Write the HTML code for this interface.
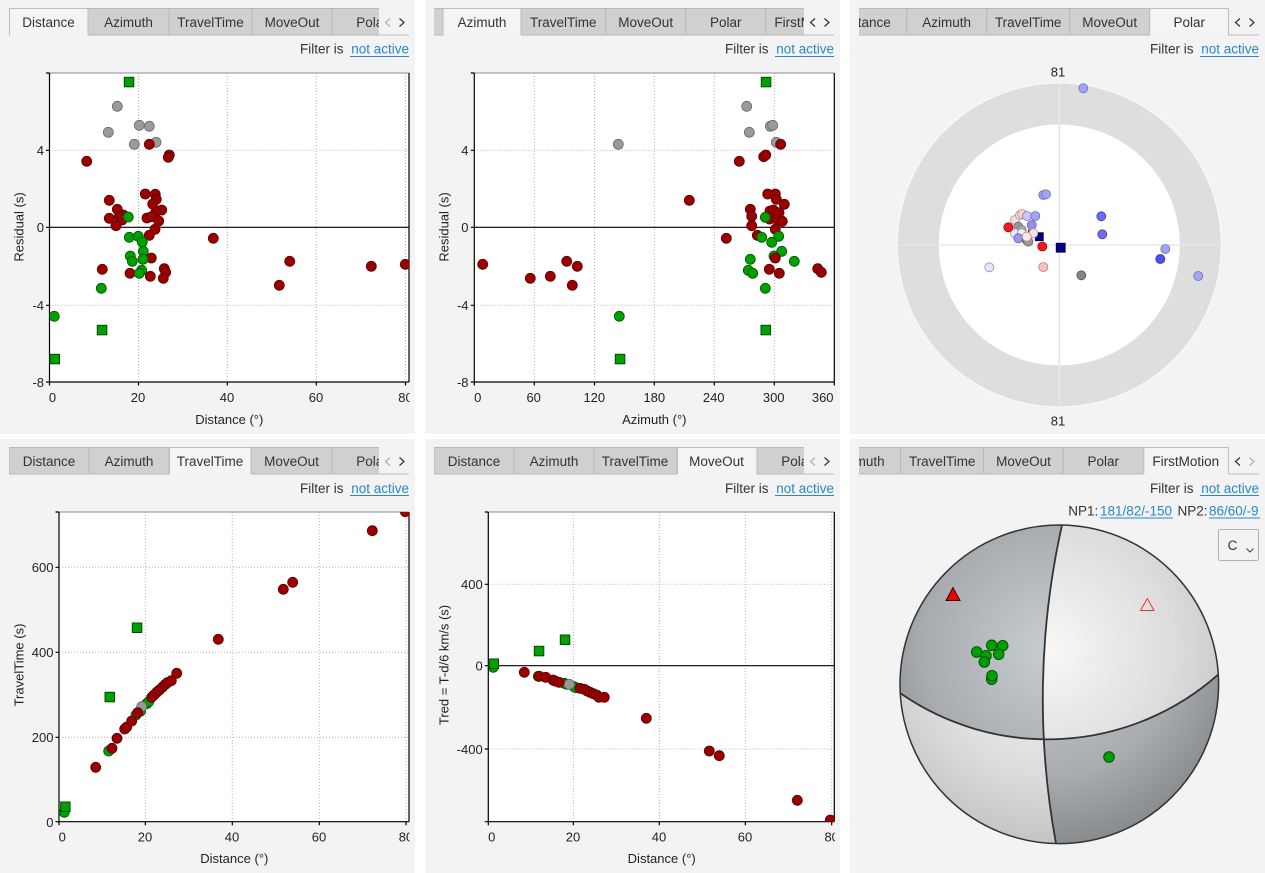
<!DOCTYPE html>
<html><head><meta charset="utf-8"><style>
html,body{margin:0;padding:0;background:#fff;width:1265px;height:873px;overflow:hidden}
svg{display:block;font-family:"Liberation Sans",Arial,sans-serif}
.bg{fill:#f2f3f2}
.ti{fill:#d0d0cf;stroke:#b9b9b9;stroke-width:1}
.ta{fill:#f3f4f3}
.tb{fill:none;stroke:#bdbdbd;stroke-width:1}
.tt{font-size:13.5px;fill:#333;text-anchor:middle}
.lab{font-size:13.5px;fill:#333;text-anchor:end}
.lnk{font-size:13.5px;fill:#2b86cc;text-anchor:end}
.ul{stroke:#2b86cc;stroke-width:1}
.tk{font-size:13px;fill:#222}
.tky{font-size:13px;fill:#222;text-anchor:end}
.tkx{font-size:13px;fill:#222;text-anchor:middle}
.ttl{font-size:13px;fill:#222;text-anchor:middle}
.grid{stroke:#b4b4b4;stroke-width:1;stroke-dasharray:1 2}
.ax{stroke:#000;stroke-width:1.2;fill:none}
.bt{stroke:#8c8c8c;stroke-width:1}
.r{fill:#9b0000;stroke:#5c0000;stroke-width:0.8}
.g{fill:#00a000;stroke:#005800;stroke-width:0.8}
.gy{fill:#9a9a9a;stroke:#6a6a6a;stroke-width:0.8}
.sq{fill:#00a000;stroke:#004a00;stroke-width:1}
.chd{fill:none;stroke:#333;stroke-width:1.2}
.chl{fill:none;stroke:#b0b0b0;stroke-width:1.2}
</style></head><body>
<svg width="1265" height="873" viewBox="0 0 1265 873">
<defs>
<clipPath id="tc1"><rect x="9" y="0" width="370" height="40"/></clipPath>
<clipPath id="tc2"><rect x="434" y="0" width="370" height="40"/></clipPath>
<clipPath id="tc3"><rect x="859" y="0" width="370" height="40"/></clipPath>
<clipPath id="tc4"><rect x="9" y="440" width="370" height="40"/></clipPath>
<clipPath id="tc5"><rect x="434" y="440" width="370" height="40"/></clipPath>
<clipPath id="tc6"><rect x="859" y="440" width="370" height="40"/></clipPath>
<clipPath id="pc1"><rect x="49.5" y="73" width="359.5" height="309"/></clipPath>
<clipPath id="pc2"><rect x="474.3" y="73" width="360" height="309"/></clipPath>
<clipPath id="pc4"><rect x="59" y="512" width="350" height="309.7"/></clipPath>
<clipPath id="pc5"><rect x="488.3" y="512" width="346" height="309.7"/></clipPath>
<clipPath id="lc1"><rect x="0" y="380" width="409.5" height="40"/></clipPath>
<clipPath id="lc4"><rect x="0" y="820" width="409.5" height="40"/></clipPath>
<clipPath id="lc5"><rect x="425" y="820" width="409.8" height="40"/></clipPath>
<radialGradient id="lg" cx="1050" cy="650" r="230" gradientUnits="userSpaceOnUse">
<stop offset="0" stop-color="#f7f7f7"/><stop offset="0.55" stop-color="#dcdcdc"/><stop offset="0.85" stop-color="#c4c4c4"/><stop offset="1" stop-color="#b8b8b8"/></radialGradient>
<radialGradient id="dg" cx="1050" cy="650" r="230" gradientUnits="userSpaceOnUse">
<stop offset="0" stop-color="#c8cdd1"/><stop offset="0.55" stop-color="#a8acb0"/><stop offset="0.85" stop-color="#878b8e"/><stop offset="1" stop-color="#7a7e81"/></radialGradient>
</defs>

<!-- panel backgrounds -->
<rect class="bg" x="0" y="0" width="415" height="434"/>
<rect class="bg" x="425" y="0" width="415" height="434"/>
<rect class="bg" x="850" y="0" width="415" height="434"/>
<rect class="bg" x="0" y="439" width="415" height="434"/>
<rect class="bg" x="425" y="439" width="415" height="434"/>
<rect class="bg" x="850" y="439" width="415" height="434"/>

<!-- ===== TAB STRIPS TOP ===== -->
<line class="tb" x1="9" y1="35" x2="409" y2="35"/>
<g clip-path="url(#tc1)">
<rect class="ti" x="88" y="8.5" width="81" height="26.5"/>
<rect class="ti" x="169" y="8.5" width="83" height="26.5"/>
<rect class="ti" x="252" y="8.5" width="80" height="26.5"/>
<rect class="ti" x="332" y="8.5" width="80" height="26.5"/>
<rect class="ta" x="9" y="8" width="79" height="28"/>
<path class="tb" d="M9.5 35.5 V8.5 H88 V35"/>
<text class="tt" x="48.5" y="27">Distance</text>
<text class="tt" x="128.5" y="27">Azimuth</text>
<text class="tt" x="210.5" y="27">TravelTime</text>
<text class="tt" x="292" y="27">MoveOut</text>
<text class="tt" x="372" y="27">Polar</text>
</g>
<polyline class="chl" points="390,18.5 385.5,22.5 390,26.5"/>
<polyline class="chd" points="399.5,18.5 404,22.5 399.5,26.5"/>

<line class="tb" x1="434" y1="35" x2="834" y2="35"/>
<g clip-path="url(#tc2)">
<rect class="ti" x="364" y="8.5" width="79" height="26.5"/>
<rect class="ti" x="521" y="8.5" width="84.7" height="26.5"/>
<rect class="ti" x="605.7" y="8.5" width="80" height="26.5"/>
<rect class="ti" x="685.7" y="8.5" width="80" height="26.5"/>
<rect class="ti" x="765.7" y="8.5" width="84" height="26.5"/>
<rect class="ta" x="443" y="8" width="78" height="28"/>
<path class="tb" d="M443 35.5 V8.5 H521 V35"/>
<text class="tt" x="482" y="27">Azimuth</text>
<text class="tt" x="563.3" y="27">TravelTime</text>
<text class="tt" x="645.7" y="27">MoveOut</text>
<text class="tt" x="725.7" y="27">Polar</text>
<text class="tt" x="807.8" y="27">FirstMotion</text>
</g>
<polyline class="chd" points="815,18.5 810.5,22.5 815,26.5"/>
<polyline class="chd" points="824.5,18.5 829,22.5 824.5,26.5"/>

<line class="tb" x1="859" y1="35" x2="1259" y2="35"/>
<g clip-path="url(#tc3)">
<rect class="ti" x="827" y="8.5" width="79.7" height="26.5"/>
<rect class="ti" x="906.7" y="8.5" width="80" height="26.5"/>
<rect class="ti" x="986.7" y="8.5" width="83" height="26.5"/>
<rect class="ti" x="1069.7" y="8.5" width="80" height="26.5"/>
<rect class="ta" x="1149.7" y="8" width="79" height="28"/>
<path class="tb" d="M1149.7 35 V8.5 H1228.5 V35.5"/>
<text class="tt" x="864.5" y="27">Distance</text>
<text class="tt" x="946.7" y="27">Azimuth</text>
<text class="tt" x="1028.2" y="27">TravelTime</text>
<text class="tt" x="1109.7" y="27">MoveOut</text>
<text class="tt" x="1189.2" y="27">Polar</text>
</g>
<polyline class="chd" points="1240,18.5 1235.5,22.5 1240,26.5"/>
<polyline class="chd" points="1249.5,18.5 1254,22.5 1249.5,26.5"/>

<!-- ===== TAB STRIPS BOTTOM ===== -->
<line class="tb" x1="9" y1="474" x2="409" y2="474"/>
<g clip-path="url(#tc4)">
<rect class="ti" x="9" y="447.5" width="80" height="26.5"/>
<rect class="ti" x="89" y="447.5" width="80" height="26.5"/>
<rect class="ti" x="251" y="447.5" width="81" height="26.5"/>
<rect class="ti" x="332" y="447.5" width="80" height="26.5"/>
<rect class="ta" x="169" y="447" width="82" height="28"/>
<path class="tb" d="M169.5 474 V447.5 H251 V474"/>
<text class="tt" x="49" y="466">Distance</text>
<text class="tt" x="129" y="466">Azimuth</text>
<text class="tt" x="210" y="466">TravelTime</text>
<text class="tt" x="291.5" y="466">MoveOut</text>
<text class="tt" x="372" y="466">Polar</text>
</g>
<polyline class="chl" points="390,457.5 385.5,461.5 390,465.5"/>
<polyline class="chd" points="399.5,457.5 404,461.5 399.5,465.5"/>

<line class="tb" x1="434" y1="474" x2="834" y2="474"/>
<g clip-path="url(#tc5)">
<rect class="ti" x="434" y="447.5" width="80" height="26.5"/>
<rect class="ti" x="514" y="447.5" width="80" height="26.5"/>
<rect class="ti" x="594" y="447.5" width="83" height="26.5"/>
<rect class="ti" x="757" y="447.5" width="80" height="26.5"/>
<rect class="ta" x="677" y="447" width="80" height="28"/>
<path class="tb" d="M677.5 474 V447.5 H757 V474"/>
<text class="tt" x="474" y="466">Distance</text>
<text class="tt" x="554" y="466">Azimuth</text>
<text class="tt" x="635" y="466">TravelTime</text>
<text class="tt" x="716.5" y="466">MoveOut</text>
<text class="tt" x="797" y="466">Polar</text>
</g>
<polyline class="chl" points="815,457.5 810.5,461.5 815,465.5"/>
<polyline class="chd" points="824.5,457.5 829,461.5 824.5,465.5"/>

<line class="tb" x1="859" y1="474" x2="1259" y2="474"/>
<g clip-path="url(#tc6)">
<rect class="ti" x="820" y="447.5" width="80.7" height="26.5"/>
<rect class="ti" x="900.7" y="447.5" width="83" height="26.5"/>
<rect class="ti" x="983.7" y="447.5" width="79.6" height="26.5"/>
<rect class="ti" x="1063.3" y="447.5" width="80" height="26.5"/>
<rect class="ta" x="1143.3" y="447" width="85" height="28"/>
<path class="tb" d="M1143.8 474 V447.5 H1228.3 V474"/>
<text class="tt" x="860.3" y="466">Azimuth</text>
<text class="tt" x="942.2" y="466">TravelTime</text>
<text class="tt" x="1023.5" y="466">MoveOut</text>
<text class="tt" x="1103.3" y="466">Polar</text>
<text class="tt" x="1185.8" y="466">FirstMotion</text>
</g>
<polyline class="chd" points="1240,457.5 1235.5,461.5 1240,465.5"/>
<polyline class="chl" points="1249.5,457.5 1254,461.5 1249.5,465.5"/>

<!-- ===== FILTER LINES ===== -->
<text class="lab" x="343.5" y="53.5">Filter is</text><text class="lnk" x="409" y="53.5">not active</text><line class="ul" x1="350" y1="56.5" x2="409" y2="56.5"/>
<text class="lab" x="768.5" y="53.5">Filter is</text><text class="lnk" x="834" y="53.5">not active</text><line class="ul" x1="775" y1="56.5" x2="834" y2="56.5"/>
<text class="lab" x="1193.5" y="53.5">Filter is</text><text class="lnk" x="1259" y="53.5">not active</text><line class="ul" x1="1200" y1="56.5" x2="1259" y2="56.5"/>
<text class="lab" x="343.5" y="493">Filter is</text><text class="lnk" x="409" y="493">not active</text><line class="ul" x1="350" y1="495.5" x2="409" y2="495.5"/>
<text class="lab" x="768.5" y="493">Filter is</text><text class="lnk" x="834" y="493">not active</text><line class="ul" x1="775" y1="495.5" x2="834" y2="495.5"/>
<text class="lab" x="1193.5" y="493">Filter is</text><text class="lnk" x="1259" y="493">not active</text><line class="ul" x1="1200" y1="495.5" x2="1259" y2="495.5"/>

<!-- ===== PANEL 1 ===== -->
<rect x="49.5" y="73" width="359.5" height="309" fill="#fff"/>
<g class="grid">
<line x1="138.5" y1="73" x2="138.5" y2="382"/><line x1="227.3" y1="73" x2="227.3" y2="382"/><line x1="316.3" y1="73" x2="316.3" y2="382"/><line x1="405.5" y1="73" x2="405.5" y2="382"/>
<line x1="49.5" y1="150.3" x2="409" y2="150.3"/><line x1="49.5" y1="305.3" x2="409" y2="305.3"/>
</g>
<line class="bt" x1="49.5" y1="73" x2="409" y2="73"/>
<line class="ax" x1="49.5" y1="227.3" x2="409" y2="227.3"/>
<line class="ax" x1="409" y1="73" x2="409" y2="382"/>
<path class="ax" d="M49.5 73 V382 H409"/>
<path class="ax" d="M46 73H49.5M46 150.3H49.5M46 227.3H49.5M46 305.3H49.5M46 382H49.5M49.5 382V385.5M138.5 382V385.5M227.3 382V385.5M316.3 382V385.5M405.5 382V385.5"/>
<text class="tky" x="44" y="155">4</text><text class="tky" x="44" y="232">0</text><text class="tky" x="44" y="310">-4</text><text class="tky" x="44" y="387">-8</text>
<g clip-path="url(#lc1)">
<text class="tkx" x="52.5" y="402">0</text><text class="tkx" x="138" y="402">20</text><text class="tkx" x="227" y="402">40</text><text class="tkx" x="316" y="402">60</text><text class="tkx" x="405.5" y="402">80</text>
</g>
<text class="ttl" x="229.3" y="424">Distance (°)</text>
<text class="ttl" transform="translate(23.5,227) rotate(-90)">Residual (s)</text>
<g clip-path="url(#pc1)">
<g class="gy">
<circle cx="117.3" cy="106.3" r="5"/><circle cx="108.3" cy="132.3" r="5"/><circle cx="139.3" cy="125.3" r="5"/><circle cx="149.3" cy="126.3" r="5"/><circle cx="134.3" cy="144.3" r="5"/><circle cx="156" cy="142.3" r="5"/>
</g>
<g class="r">
<circle cx="149.3" cy="144.3" r="5"/><circle cx="86.7" cy="161.3" r="5"/><circle cx="169.3" cy="155" r="5"/><circle cx="168.3" cy="157.3" r="5"/><circle cx="145.3" cy="194" r="5"/><circle cx="155.3" cy="194.3" r="5"/><circle cx="156.3" cy="199.3" r="5"/><circle cx="152.7" cy="204" r="5"/><circle cx="109.3" cy="200.3" r="5"/><circle cx="117.3" cy="209.3" r="5"/><circle cx="161.7" cy="210" r="5"/><circle cx="156" cy="212" r="5"/><circle cx="123.3" cy="215" r="5"/><circle cx="119.3" cy="216.7" r="5"/><circle cx="109.3" cy="218.3" r="5"/><circle cx="122" cy="220" r="5"/><circle cx="147" cy="218" r="5"/><circle cx="151.7" cy="216.7" r="5"/><circle cx="158.7" cy="221" r="5"/><circle cx="116" cy="225.7" r="5"/><circle cx="155" cy="229.3" r="5"/><circle cx="149.3" cy="235.3" r="5"/><circle cx="213.3" cy="238.3" r="5"/><circle cx="151.3" cy="258" r="5"/><circle cx="102.3" cy="269.3" r="5"/><circle cx="130" cy="273.3" r="5"/><circle cx="164.3" cy="268.7" r="5"/><circle cx="165.7" cy="272.3" r="5"/><circle cx="150.3" cy="276.3" r="5"/><circle cx="163.3" cy="278.3" r="5"/><circle cx="289.7" cy="261.3" r="5"/><circle cx="279.3" cy="285.3" r="5"/><circle cx="371.3" cy="266.3" r="5"/><circle cx="405.3" cy="264.3" r="5"/>
</g>
<g class="g">
<circle cx="128.3" cy="217" r="5"/><circle cx="129.3" cy="237.3" r="5"/><circle cx="138.3" cy="236.3" r="5"/><circle cx="142.3" cy="242" r="5"/><circle cx="143.3" cy="251.3" r="5"/><circle cx="130.3" cy="256" r="5"/><circle cx="132.3" cy="261.3" r="5"/><circle cx="143" cy="259.3" r="5"/><circle cx="141.7" cy="270.3" r="5"/><circle cx="139.3" cy="273.3" r="5"/><circle cx="101.3" cy="288.3" r="5"/><circle cx="54.3" cy="316.3" r="5"/>
</g>
<g class="sq">
<rect x="124.3" y="77.3" width="9.5" height="9.5"/><rect x="97.3" y="325.3" width="9.5" height="9.5"/><rect x="50" y="354.3" width="9.5" height="9.5"/>
</g>
</g>

<!-- ===== PANEL 2 ===== -->
<rect x="474.3" y="73" width="360" height="309" fill="#fff"/>
<g class="grid">
<line x1="534.3" y1="73" x2="534.3" y2="382"/><line x1="594.5" y1="73" x2="594.5" y2="382"/><line x1="654.3" y1="73" x2="654.3" y2="382"/><line x1="714.3" y1="73" x2="714.3" y2="382"/><line x1="774.3" y1="73" x2="774.3" y2="382"/>
<line x1="474.3" y1="150.3" x2="834.3" y2="150.3"/><line x1="474.3" y1="305.3" x2="834.3" y2="305.3"/>
</g>
<line class="bt" x1="474.3" y1="73" x2="834.3" y2="73"/>
<line class="ax" x1="474.3" y1="227.3" x2="834.3" y2="227.3"/>
<line class="ax" x1="834.3" y1="73" x2="834.3" y2="382"/>
<path class="ax" d="M474.3 73 V382 H834.3"/>
<path class="ax" d="M470.8 73H474.3M470.8 150.3H474.3M470.8 227.3H474.3M470.8 305.3H474.3M470.8 382H474.3M474.3 382V385.5M534.3 382V385.5M594.5 382V385.5M654.3 382V385.5M714.3 382V385.5M774.3 382V385.5M834.3 382V385.5"/>
<text class="tky" x="468.5" y="155">4</text><text class="tky" x="468.5" y="232">0</text><text class="tky" x="468.5" y="310">-4</text><text class="tky" x="468.5" y="387">-8</text>
<text class="tkx" x="477.7" y="402">0</text><text class="tkx" x="533.7" y="402">60</text><text class="tkx" x="594.3" y="402">120</text><text class="tkx" x="654.3" y="402">180</text><text class="tkx" x="713.7" y="402">240</text><text class="tkx" x="773.7" y="402">300</text><text class="tkx" x="822.7" y="402">360</text>
<text class="ttl" x="654.3" y="424">Azimuth (°)</text>
<text class="ttl" transform="translate(448.5,227) rotate(-90)">Residual (s)</text>
<g clip-path="url(#pc2)">
<g class="gy">
<circle cx="746.7" cy="106.3" r="5"/><circle cx="749.3" cy="132.3" r="5"/><circle cx="770.3" cy="126.3" r="5"/><circle cx="772.7" cy="125.3" r="5"/><circle cx="618.3" cy="144.3" r="5"/><circle cx="776.3" cy="142.3" r="5"/>
</g>
<g class="r">
<circle cx="780.7" cy="144.3" r="5"/><circle cx="739.3" cy="161.3" r="5"/><circle cx="763.7" cy="156.7" r="5"/><circle cx="765.7" cy="155" r="5"/><circle cx="689.3" cy="200.3" r="5"/><circle cx="767.7" cy="194" r="5"/><circle cx="775.3" cy="194" r="5"/><circle cx="776.3" cy="199.3" r="5"/><circle cx="784.3" cy="204.3" r="5"/><circle cx="750.3" cy="209.3" r="5"/><circle cx="751.7" cy="216.3" r="5"/><circle cx="770" cy="211" r="5"/><circle cx="773.3" cy="210" r="5"/><circle cx="779" cy="212.7" r="5"/><circle cx="769.7" cy="219" r="5"/><circle cx="776.7" cy="219" r="5"/><circle cx="782.3" cy="221.3" r="5"/><circle cx="751.7" cy="225.7" r="5"/><circle cx="775.3" cy="229.3" r="5"/><circle cx="726.3" cy="238.3" r="5"/><circle cx="757.3" cy="235.3" r="5"/><circle cx="482.7" cy="264.3" r="5"/><circle cx="530.3" cy="278.3" r="5"/><circle cx="550.3" cy="276.3" r="5"/><circle cx="566.7" cy="261.3" r="5"/><circle cx="577.3" cy="266.3" r="5"/><circle cx="572.3" cy="285.3" r="5"/><circle cx="817.7" cy="268.7" r="5"/><circle cx="821.3" cy="272.3" r="5"/>
</g>
<g class="g">
<circle cx="765.3" cy="217.3" r="5"/><circle cx="761.7" cy="237.3" r="5"/><circle cx="778.7" cy="236.3" r="5"/><circle cx="771.7" cy="242.3" r="5"/><circle cx="781.7" cy="251.3" r="5"/><circle cx="774" cy="256" r="5"/><circle cx="750.3" cy="259.3" r="5"/><circle cx="794.3" cy="261.3" r="5"/><circle cx="748.3" cy="270.3" r="5"/><circle cx="752.7" cy="273.3" r="5"/><circle cx="765.3" cy="288.3" r="5"/><circle cx="619.3" cy="316.3" r="5"/>
</g>
<g class="r">
<circle cx="775.3" cy="258" r="5"/><circle cx="769.3" cy="269.3" r="5"/><circle cx="779.3" cy="273.3" r="5"/>
</g>
<g class="sq">
<rect x="761.3" y="77.3" width="9.5" height="9.5"/><rect x="761" y="325.3" width="9.5" height="9.5"/><rect x="615.3" y="354.3" width="9.5" height="9.5"/>
</g>
</g>

<!-- ===== PANEL 3: Polar ===== -->
<circle cx="1059.3" cy="245" r="162" fill="#dedede" stroke="#fbfbfb" stroke-width="1"/>
<circle cx="1059.3" cy="245" r="120.5" fill="#fff"/>
<line x1="1059.3" y1="83" x2="1059.3" y2="407" stroke="#ececec"/>
<line x1="897.3" y1="245" x2="1221.3" y2="245" stroke="#ececec"/>
<line x1="1059.3" y1="124.5" x2="1059.3" y2="365.5" stroke="#dcdcdc"/>
<line x1="938.8" y1="245" x2="1179.8" y2="245" stroke="#dcdcdc"/>
<text class="tkx" x="1058" y="76.5">81</text>
<text class="tkx" x="1058" y="425.5">81</text>
<g stroke-width="0.8">
<rect x="1035.3" y="232.7" width="8" height="8" fill="#000080" stroke="#000050"/>
<rect x="1028" y="229.7" width="4" height="4" fill="#800000"/>
<circle cx="1015" cy="220" r="4.5" fill="#f8d8d8" stroke="#b09090"/>
<circle cx="1020" cy="215" r="4.5" fill="#fbe4e4" stroke="#b09090"/>
<circle cx="1022" cy="214" r="4.5" fill="#f6d0d0" stroke="#b09090"/>
<circle cx="1027" cy="216" r="4.5" fill="#c8c8f4" stroke="#8080b0"/>
<circle cx="1018.3" cy="226.7" r="4.5" fill="#999" stroke="#666"/>
<circle cx="1021.7" cy="230" r="4.5" fill="#aaa" stroke="#777"/>
<circle cx="1031.7" cy="225" r="4.5" fill="#9090f0" stroke="#6060b0"/>
<circle cx="1035.3" cy="216" r="4.5" fill="#a4a4f4" stroke="#7070c0"/>
<circle cx="1015" cy="233.3" r="4.5" fill="#e8e8fa" stroke="#9090b0"/>
<circle cx="1021.7" cy="233.3" r="4.5" fill="#f0f0fc" stroke="#9090b0"/>
<circle cx="1018.3" cy="238.3" r="4.5" fill="#9898ec" stroke="#6060b0"/>
<circle cx="1033.3" cy="233.3" r="4.5" fill="#fbe0e0" stroke="#b09090"/>
<circle cx="1026.7" cy="240" r="4.5" fill="#888" stroke="#555"/>
<circle cx="1028.3" cy="241.7" r="4.5" fill="#999" stroke="#666"/>
<circle cx="1026.7" cy="236.7" r="4.5" fill="#fce8e8" stroke="#b09090"/>
<circle cx="1008.3" cy="227.3" r="4.5" fill="#ee1c1c" stroke="#aa0000"/>
<circle cx="1042.3" cy="246.5" r="4.5" fill="#ee1c1c" stroke="#aa0000"/>
<circle cx="1083.3" cy="88.3" r="4.5" fill="#a4a4f4" stroke="#7070c0"/>
<circle cx="1043.3" cy="195" r="4.5" fill="#a4a4f4" stroke="#7070c0"/>
<circle cx="1046" cy="194.3" r="4.5" fill="#a4a4f4" stroke="#7070c0"/>
<circle cx="1165.3" cy="249" r="4.5" fill="#a4a4f4" stroke="#7070c0"/>
<circle cx="1198.3" cy="276" r="4.5" fill="#a4a4f4" stroke="#7070c0"/>
<circle cx="1101.3" cy="216.3" r="4.5" fill="#6c6cf0" stroke="#4040a8"/>
<circle cx="1102.3" cy="234.3" r="4.5" fill="#6c6cf0" stroke="#4040a8"/>
<circle cx="1160.3" cy="259" r="4.5" fill="#5050ec" stroke="#3030a0"/>
<circle cx="1081.3" cy="275.3" r="4.5" fill="#858585" stroke="#555"/>
<circle cx="1043.3" cy="267" r="4.5" fill="#f6c0c0" stroke="#b08080"/>
<circle cx="989.3" cy="267.3" r="4.5" fill="#e6e6fa" stroke="#9090b0"/>
<rect x="1056.2" y="243.2" width="9" height="9" fill="#000080" stroke="#000050"/>
</g>

<!-- ===== PANEL 4 ===== -->
<rect x="59" y="512" width="350" height="309.7" fill="#fff"/>
<g class="grid">
<line x1="145.3" y1="512" x2="145.3" y2="821.7"/><line x1="232.3" y1="512" x2="232.3" y2="821.7"/><line x1="319.3" y1="512" x2="319.3" y2="821.7"/><line x1="406" y1="512" x2="406" y2="821.7"/>
<line x1="59" y1="567.3" x2="409" y2="567.3"/><line x1="59" y1="652.3" x2="409" y2="652.3"/><line x1="59" y1="737.3" x2="409" y2="737.3"/>
</g>
<line class="bt" x1="59" y1="512" x2="409" y2="512"/>
<line class="ax" x1="409" y1="512" x2="409" y2="821.7"/>
<path class="ax" d="M59 512 V821.7 H409"/>
<path class="ax" d="M55.5 512H59M55.5 567.3H59M55.5 652.3H59M55.5 737.3H59M55.5 821.7H59M59 821.7V825.2M145.3 821.7V825.2M232.3 821.7V825.2M319.3 821.7V825.2M406 821.7V825.2"/>
<text class="tky" x="53.5" y="572">600</text><text class="tky" x="53.5" y="657">400</text><text class="tky" x="53.5" y="742">200</text><text class="tky" x="53.5" y="827">0</text>
<g clip-path="url(#lc4)">
<text class="tkx" x="62.3" y="841.5">0</text><text class="tkx" x="145" y="841.5">20</text><text class="tkx" x="232" y="841.5">40</text><text class="tkx" x="319" y="841.5">60</text><text class="tkx" x="406" y="841.5">80</text>
</g>
<text class="ttl" x="234.3" y="863">Distance (°)</text>
<text class="ttl" transform="translate(23.5,665) rotate(-90)">TravelTime (s)</text>
<g clip-path="url(#pc4)">
<g class="g">
<circle cx="64.3" cy="812.3" r="5"/><circle cx="108.7" cy="751" r="5"/><circle cx="136" cy="715" r="5"/><circle cx="140.7" cy="711" r="5"/><circle cx="146.7" cy="703.7" r="5"/><circle cx="148.7" cy="701.7" r="5"/>
</g>
<circle class="gy" cx="141.7" cy="706.7" r="5"/>
<g class="r">
<circle cx="95.7" cy="767.3" r="5"/><circle cx="112" cy="748.3" r="5"/><circle cx="117" cy="738.3" r="5"/><circle cx="124.7" cy="729" r="5"/><circle cx="126.7" cy="727" r="5"/><circle cx="131.7" cy="721" r="5"/><circle cx="137.7" cy="712.7" r="5"/>
<circle cx="151.7" cy="697.3" r="5"/><circle cx="154" cy="695" r="5"/><circle cx="156.7" cy="692.3" r="5"/><circle cx="159.3" cy="690" r="5"/><circle cx="162.3" cy="687.3" r="5"/><circle cx="165" cy="684.7" r="5"/><circle cx="167.3" cy="682.7" r="5"/><circle cx="171.3" cy="680.7" r="5"/><circle cx="176.7" cy="673.3" r="5"/>
<circle cx="218.3" cy="639.3" r="5"/><circle cx="283.3" cy="589.3" r="5"/><circle cx="292.7" cy="582.3" r="5"/><circle cx="372.3" cy="530.7" r="5"/><circle cx="405.3" cy="511.7" r="5"/>
</g>
<g class="sq">
<rect x="132.3" y="623" width="9.5" height="9.5"/><rect x="105" y="692.3" width="9.5" height="9.5"/><rect x="60.6" y="802" width="9.5" height="9.5"/>
</g>
</g>

<!-- ===== PANEL 5 ===== -->
<rect x="488.3" y="512" width="346" height="309.7" fill="#fff"/>
<g class="grid">
<line x1="573.3" y1="512" x2="573.3" y2="821.7"/><line x1="659.3" y1="512" x2="659.3" y2="821.7"/><line x1="745.3" y1="512" x2="745.3" y2="821.7"/><line x1="831.7" y1="512" x2="831.7" y2="821.7"/>
<line x1="488.3" y1="584.3" x2="834.3" y2="584.3"/><line x1="488.3" y1="749" x2="834.3" y2="749"/>
</g>
<line class="bt" x1="488.3" y1="512" x2="834.3" y2="512"/>
<line class="ax" x1="488.3" y1="665.7" x2="834.3" y2="665.7"/>
<line class="ax" x1="834.3" y1="512" x2="834.3" y2="821.7"/>
<path class="ax" d="M488.3 512 V821.7 H834.3"/>
<path class="ax" d="M484.8 512H488.3M484.8 584.3H488.3M484.8 665.7H488.3M484.8 749H488.3M484.8 821.7H488.3M488.3 821.7V825.2M573.3 821.7V825.2M659.3 821.7V825.2M745.3 821.7V825.2M831.7 821.7V825.2"/>
<text class="tky" x="482.7" y="589">400</text><text class="tky" x="482.7" y="670.5">0</text><text class="tky" x="482.7" y="754">-400</text>
<g clip-path="url(#lc5)">
<text class="tkx" x="491.7" y="841.5">0</text><text class="tkx" x="573" y="841.5">20</text><text class="tkx" x="659" y="841.5">40</text><text class="tkx" x="745" y="841.5">60</text><text class="tkx" x="831.7" y="841.5">80</text>
</g>
<text class="ttl" x="661.7" y="863">Distance (°)</text>
<text class="ttl" transform="translate(448.5,665) rotate(-90)">Tred = T-d/6 km/s (s)</text>
<g clip-path="url(#pc5)">
<g class="g">
<circle cx="493.3" cy="667.3" r="5"/><circle cx="538.3" cy="676.3" r="5"/><circle cx="564.3" cy="683.3" r="5"/><circle cx="566.7" cy="684.3" r="5"/><circle cx="574" cy="686.7" r="5"/><circle cx="575.7" cy="687.7" r="5"/>
</g>
<circle class="gy" cx="569.3" cy="684.3" r="5"/>
<g class="r">
<circle cx="524.3" cy="672.3" r="5"/><circle cx="539.3" cy="676.3" r="5"/><circle cx="545.7" cy="677.3" r="5"/><circle cx="553" cy="680" r="5"/><circle cx="555" cy="681" r="5"/><circle cx="559" cy="682.3" r="5"/>
<circle cx="580" cy="688.3" r="5"/><circle cx="584.3" cy="689.3" r="5"/><circle cx="587.3" cy="691" r="5"/><circle cx="590" cy="692.3" r="5"/><circle cx="593.3" cy="693.7" r="5"/><circle cx="596.7" cy="695" r="5"/><circle cx="599" cy="697.3" r="5"/><circle cx="604.3" cy="697.3" r="5"/>
<circle cx="646.3" cy="718.3" r="5"/><circle cx="709.3" cy="751" r="5"/><circle cx="719.3" cy="755.7" r="5"/><circle cx="797.3" cy="800.3" r="5"/><circle cx="830.3" cy="820" r="5"/>
</g>
<g class="sq">
<rect x="560.3" y="635" width="9.5" height="9.5"/><rect x="534.3" y="646.3" width="9.5" height="9.5"/><rect x="489" y="659" width="9.5" height="9.5"/>
</g>
</g>

<!-- ===== PANEL 6: FirstMotion ===== -->
<text class="lab" x="1068.3" y="515.5" style="text-anchor:start">NP1:</text>
<text class="lnk" x="1100" y="515.5" style="text-anchor:start">181/82/-150</text>
<line class="ul" x1="1100" y1="518" x2="1173" y2="518"/>
<text class="lab" x="1177.5" y="515.5" style="text-anchor:start">NP2:</text>
<text class="lnk" x="1209" y="515.5" style="text-anchor:start">86/60/-9</text>
<line class="ul" x1="1209" y1="518" x2="1260" y2="518"/>

<rect x="1218.5" y="529.5" width="40" height="31" rx="2" fill="#f2f2f2" stroke="#b0b0b0"/>
<text class="tt" x="1232.5" y="550">C</text>
<polyline points="1246.5,548.5 1250,552 1253.5,548.5" fill="none" stroke="#444" stroke-width="1"/>

<circle cx="1059.3" cy="684.3" r="159.3" fill="url(#lg)"/>
<path d="M900.7 693.3 A159.3 159.3 0 0 1 1062 525.1 A797 797 0 0 0 1044 739 A257.6 257.6 0 0 1 900.7 693.3 Z" fill="url(#dg)"/>
<path d="M1044 739 A257.6 257.6 0 0 0 1218.5 674.3 A159.3 159.3 0 0 1 1056 843.5 A797 797 0 0 1 1044 739 Z" fill="url(#dg)"/>
<path d="M1062 525.1 A797 797 0 0 0 1056 843.5" fill="none" stroke="#333" stroke-width="1.8"/>
<path d="M900.4 693.3 A257.6 257.6 0 0 0 1218.5 674.3" fill="none" stroke="#333" stroke-width="1.8"/>
<circle cx="1059.3" cy="684.3" r="159.3" fill="none" stroke="#333" stroke-width="1.5"/>
<g fill="#00a000" stroke="#004a00" stroke-width="0.9">
<circle cx="976.7" cy="652" r="5.3"/><circle cx="986" cy="655.7" r="5.3"/><circle cx="991.7" cy="645.3" r="5.3"/><circle cx="1002.7" cy="645.7" r="5.3"/><circle cx="998.7" cy="654.3" r="5.3"/><circle cx="984.3" cy="662" r="5.3"/><circle cx="991.7" cy="679.3" r="5.3"/><circle cx="992" cy="675.7" r="5.3"/><circle cx="1109" cy="757" r="5.3"/>
</g>
<polygon points="953,587.5 946,600.5 960,600.5" fill="#ee0000" stroke="#400000" stroke-width="1"/>
<polygon points="1147.3,598.5 1140.5,610.5 1154,610.5" fill="none" stroke="#ee3333" stroke-width="1"/>
</svg>
</body></html>
